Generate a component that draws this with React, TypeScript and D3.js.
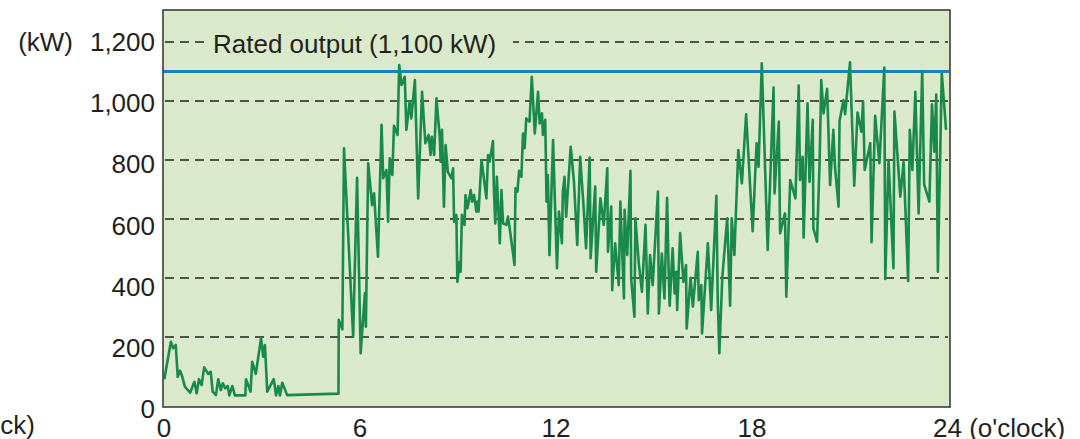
import React from 'react';
import * as d3 from 'd3';

// readings: [hour of day, output kW]
const samples: [number, number][] = [
  [0.01, 57], [0.21, 184], [0.28, 162], [0.36, 173], [0.42, 65], [0.49, 86], [0.56, 65],
  [0.64, 32], [0.8, 11], [0.93, 48], [1.0, 9], [1.07, 57], [1.15, 37], [1.23, 97],
  [1.35, 75], [1.43, 82], [1.49, 15], [1.59, 3], [1.66, 57], [1.74, 20], [1.8, 43],
  [1.87, 26], [1.95, 34], [2.0, 2], [2.09, 34], [2.17, 2], [2.49, 2], [2.51, 57],
  [2.65, 15], [2.7, 116], [2.81, 75], [2.97, 195], [3.04, 133], [3.09, 173], [3.16, 15],
  [3.36, 57], [3.43, 2], [3.5, 34], [3.55, 2], [3.62, 45], [3.77, 3], [5.34, 8],
  [5.35, 258], [5.46, 226], [5.51, 840], [5.79, 201], [5.91, 740], [6.02, 145], [6.15, 348],
  [6.18, 235], [6.25, 789], [6.37, 647], [6.43, 687], [6.55, 472], [6.66, 919], [6.71, 738],
  [6.81, 766], [6.86, 591], [6.91, 806], [6.99, 749], [7.04, 916], [7.15, 885], [7.2, 1122],
  [7.27, 1054], [7.37, 1082], [7.42, 902], [7.52, 998], [7.57, 941], [7.68, 1071], [7.78, 670],
  [7.9, 1031], [8.0, 857], [8.1, 885], [8.16, 817], [8.2, 879], [8.27, 817], [8.34, 1009],
  [8.44, 879], [8.47, 794], [8.51, 902], [8.57, 642], [8.62, 851], [8.69, 760], [8.8, 738],
  [8.85, 772], [8.88, 591], [8.95, 614], [8.98, 387], [9.05, 455], [9.08, 421], [9.12, 614],
  [9.2, 580], [9.23, 681], [9.29, 636], [9.39, 698], [9.43, 659], [9.49, 681], [9.56, 625],
  [9.59, 659], [9.63, 625], [9.72, 800], [9.87, 670], [9.92, 817], [9.97, 795], [10.07, 864],
  [10.1, 693], [10.14, 585], [10.19, 743], [10.28, 518], [10.33, 698], [10.38, 585], [10.48, 580],
  [10.53, 608], [10.61, 546], [10.73, 444], [10.76, 704], [10.82, 693], [10.87, 763], [10.94, 743],
  [10.99, 890], [11.04, 840], [11.09, 941], [11.19, 930], [11.26, 1082], [11.35, 890], [11.45, 1031],
  [11.5, 924], [11.57, 958], [11.6, 885], [11.67, 936], [11.71, 659], [11.75, 749], [11.8, 478],
  [11.91, 868], [11.96, 681], [12.03, 433], [12.09, 625], [12.18, 518], [12.21, 693], [12.26, 743],
  [12.31, 608], [12.36, 693], [12.45, 845], [12.55, 726], [12.65, 512], [12.74, 811], [12.85, 631],
  [12.92, 501], [13.03, 808], [13.06, 467], [13.2, 710], [13.23, 421], [13.36, 670], [13.46, 580],
  [13.57, 772], [13.59, 489], [13.69, 642], [13.72, 359], [13.81, 518], [13.92, 376], [13.97, 659],
  [14.08, 331], [14.1, 631], [14.18, 478], [14.28, 763], [14.3, 399], [14.4, 269], [14.43, 602],
  [14.53, 455], [14.63, 353], [14.74, 580], [14.81, 280], [14.88, 478], [14.96, 376], [15.12, 693],
  [15.15, 280], [15.24, 483], [15.32, 331], [15.4, 672], [15.45, 416], [15.48, 306], [15.57, 501],
  [15.63, 348], [15.68, 421], [15.71, 292], [15.8, 552], [15.9, 387], [15.98, 444], [16.0, 229],
  [16.12, 401], [16.19, 303], [16.34, 489], [16.37, 325], [16.45, 376], [16.47, 212], [16.65, 518],
  [16.75, 292], [16.91, 679], [16.95, 331], [17.0, 145], [17.09, 401], [17.24, 602], [17.33, 306],
  [17.38, 602], [17.46, 478], [17.58, 834], [17.69, 721], [17.82, 955], [18.02, 559], [18.14, 857],
  [18.2, 777], [18.3, 1128], [18.48, 495], [18.66, 1046], [18.69, 687], [18.82, 930], [18.86, 552],
  [19.01, 619], [19.05, 337], [19.17, 732], [19.33, 670], [19.43, 1052], [19.47, 732], [19.55, 811],
  [19.58, 537], [19.7, 992], [19.76, 726], [19.86, 936], [19.88, 568], [19.99, 523], [20.07, 794],
  [20.12, 1071], [20.19, 958], [20.3, 1041], [20.39, 715], [20.49, 902], [20.54, 777], [20.65, 642],
  [20.68, 932], [20.8, 1003], [20.85, 955], [21.0, 1131], [21.13, 713], [21.23, 961], [21.35, 896],
  [21.4, 998], [21.45, 766], [21.62, 857], [21.66, 521], [21.77, 950], [21.9, 789], [22.05, 1113],
  [22.08, 397], [22.18, 800], [22.33, 433], [22.36, 964], [22.54, 676], [22.64, 792], [22.78, 390],
  [22.83, 902], [22.91, 766], [23.0, 1031], [23.1, 619], [23.21, 1099], [23.27, 717], [23.43, 659],
  [23.51, 989], [23.58, 828], [23.64, 1022], [23.69, 421], [23.81, 1094], [23.94, 902],
];

const ratedOutput = 1100;
const yTicks = [200, 400, 600, 800, 1000, 1200];
const xTicks = [0, 6, 12, 18, 24];

const W = 1080;
const H = 439;
const plot = { left: 163, top: 10, right: 950, bottom: 407 };
const font = '"Liberation Sans", Arial, Helvetica, sans-serif';

const App = () => {
  const x = d3.scaleLinear().domain([0, 24]).range([164, 948]);
  const y = d3.scaleLinear().domain([0, 1200]).range([396, 42]);
  // tick labels sit a little lower than the gridlines in the original
  const yLabel = d3.scaleLinear().domain([0, 1200]).range([409, 42]);
  const fmt = d3.format(',');

  const line = d3.line<[number, number]>()
    .x(d => x(d[0]))
    .y(d => y(d[1]));

  return (
    <svg width={W} height={H} style={{ position: 'absolute', left: 0, top: 0, background: '#fff' }}
      fontFamily={font}>
      <rect x={plot.left} y={plot.top} width={plot.right - plot.left} height={plot.bottom - plot.top}
        fill="#d9e9c9" />

      {yTicks.map(t => (
        <line key={t} x1={plot.left + 2} x2={plot.right - 2} y1={y(t)} y2={y(t)}
          stroke="#222" strokeWidth={1.6} strokeDasharray="9,6" />
      ))}

      {/* label box hides the 1,200 gridline */}
      <rect x={205} y={26} width={308} height={32} fill="#d9e9c9" />
      <text x={213} y={53} fontSize={26} fill="#231f20">Rated output (1,100 kW)</text>

      <line x1={plot.left} x2={plot.right - 1} y1={y(ratedOutput)} y2={y(ratedOutput)}
        stroke="#1b7fc3" strokeWidth={3} />

      <path d={line(samples) ?? ''} fill="none" stroke="#1a8a4a" strokeWidth={2.6}
        strokeLinejoin="round" />

      <rect x={plot.left} y={plot.top} width={plot.right - plot.left} height={plot.bottom - plot.top}
        fill="none" stroke="#3c3c3c" strokeWidth={1.6} />

      {yTicks.map(t => (
        <text key={t} x={155} y={yLabel(t)} dy="0.35em" textAnchor="end" fontSize={26} fill="#231f20">
          {fmt(t)}
        </text>
      ))}
      <text x={155} y={yLabel(0)} dy="0.35em" textAnchor="end" fontSize={26} fill="#231f20">0</text>
      <text x={73} y={yLabel(1200)} dy="0.35em" textAnchor="end" fontSize={26} fill="#231f20">(kW)</text>

      {xTicks.map(t => (
        <text key={t} x={x(t)} y={437} textAnchor={t === 24 ? 'start' : 'middle'}
          dx={t === 24 ? -15 : 0} fontSize={26} fill="#231f20">
          {t === 24 ? '24 (o\'clock)' : t}
        </text>
      ))}
      <text x={35} y={434} textAnchor="end" fontSize={26} fill="#231f20">(o'clock)</text>
    </svg>
  );
};

export default App;
